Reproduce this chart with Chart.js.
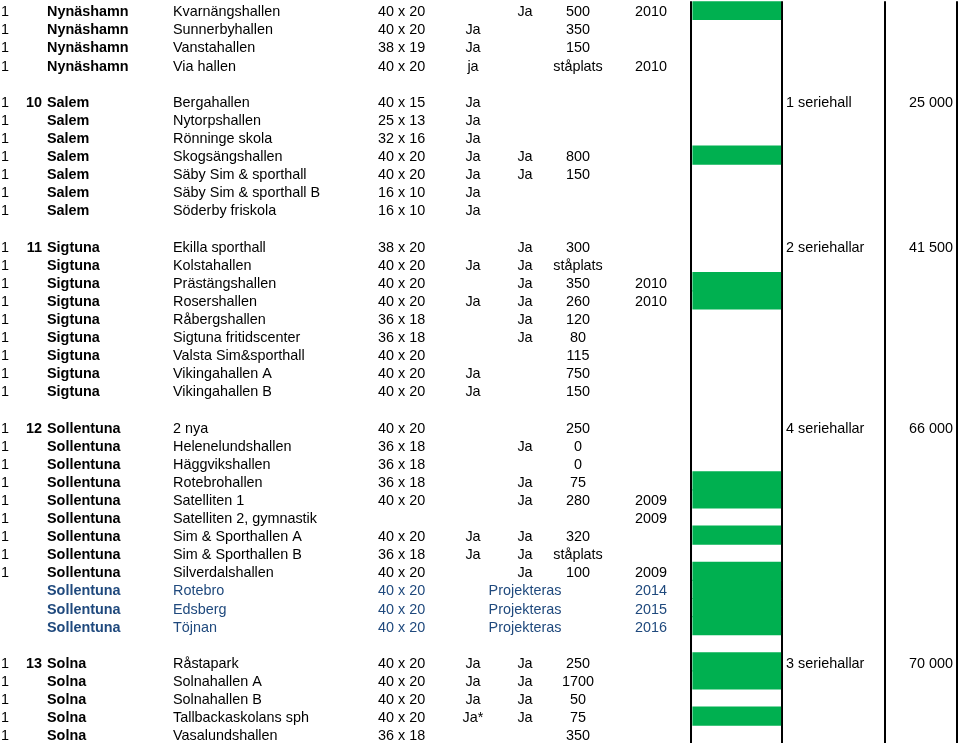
<!DOCTYPE html>
<html>

<head>
    <title>Hallar per kommun</title>
    <style>
        body {
            margin: 0;
            background: #ffffff;
        }

        #wrap {
            width: 959px;
            height: 746px;
        }
    </style>
    <script src="https://cdn.jsdelivr.net/npm/chart.js"></script>
</head>

<body>
    <div id="wrap">
        <canvas id="tabell" width="959" height="746"></canvas>
    </div>

    <script>
        // one entry per table row, '' = empty cell
        const ettor = ['1', '1', '1', '1', '', '1', '1', '1', '1', '1', '1', '1', '', '1', '1', '1', '1', '1', '1', '1', '1', '1', '',
            '1', '1', '1', '1', '1', '1', '1', '1', '1', '', '', '', '', '1', '1', '1', '1', '1'];
        const nummer = ['', '', '', '', '', '10', '', '', '', '', '', '', '', '11', '', '', '', '', '', '', '', '', '',
            '12', '', '', '', '', '', '', '', '', '', '', '', '', '13', '', '', '', ''];
        const kommuner = ['Nynäshamn', 'Nynäshamn', 'Nynäshamn', 'Nynäshamn', '',
            'Salem', 'Salem', 'Salem', 'Salem', 'Salem', 'Salem', 'Salem', '',
            'Sigtuna', 'Sigtuna', 'Sigtuna', 'Sigtuna', 'Sigtuna', 'Sigtuna', 'Sigtuna', 'Sigtuna', 'Sigtuna', '',
            'Sollentuna', 'Sollentuna', 'Sollentuna', 'Sollentuna', 'Sollentuna', 'Sollentuna', 'Sollentuna', 'Sollentuna',
            'Sollentuna', 'Sollentuna', 'Sollentuna', 'Sollentuna', '',
            'Solna', 'Solna', 'Solna', 'Solna', 'Solna'];
        const hallar = ['Kvarnängshallen', 'Sunnerbyhallen', 'Vanstahallen', 'Via hallen', '',
            'Bergahallen', 'Nytorpshallen', 'Rönninge skola', 'Skogsängshallen', 'Säby Sim & sporthall',
            'Säby Sim & sporthall B', 'Söderby friskola', '',
            'Ekilla sporthall', 'Kolstahallen', 'Prästängshallen', 'Rosershallen', 'Råbergshallen',
            'Sigtuna fritidscenter', 'Valsta Sim&sporthall', 'Vikingahallen A', 'Vikingahallen B', '',
            '2 nya', 'Helenelundshallen', 'Häggvikshallen', 'Rotebrohallen', 'Satelliten 1', 'Satelliten 2, gymnastik',
            'Sim & Sporthallen A', 'Sim & Sporthallen B', 'Silverdalshallen', 'Rotebro', 'Edsberg', 'Töjnan', '',
            'Råstapark', 'Solnahallen A', 'Solnahallen B', 'Tallbackaskolans sph', 'Vasalundshallen'];
        const storlek = ['40 x 20', '40 x 20', '38 x 19', '40 x 20', '',
            '40 x 15', '25 x 13', '32 x 16', '40 x 20', '40 x 20', '16 x 10', '16 x 10', '',
            '38 x 20', '40 x 20', '40 x 20', '40 x 20', '36 x 18', '36 x 18', '40 x 20', '40 x 20', '40 x 20', '',
            '40 x 20', '36 x 18', '36 x 18', '36 x 18', '40 x 20', '', '40 x 20', '36 x 18', '40 x 20',
            '40 x 20', '40 x 20', '40 x 20', '',
            '40 x 20', '40 x 20', '40 x 20', '40 x 20', '36 x 18'];
        const ja1 = ['', 'Ja', 'Ja', 'ja', '',
            'Ja', 'Ja', 'Ja', 'Ja', 'Ja', 'Ja', 'Ja', '',
            '', 'Ja', '', 'Ja', '', '', '', 'Ja', 'Ja', '',
            '', '', '', '', '', '', 'Ja', 'Ja', '', '', '', '', '',
            'Ja', 'Ja', 'Ja', 'Ja*', ''];
        const ja2 = ['Ja', '', '', '', '',
            '', '', '', 'Ja', 'Ja', '', '', '',
            'Ja', 'Ja', 'Ja', 'Ja', 'Ja', 'Ja', '', '', '', '',
            '', 'Ja', '', 'Ja', 'Ja', '', 'Ja', 'Ja', 'Ja', 'Projekteras', 'Projekteras', 'Projekteras', '',
            'Ja', 'Ja', 'Ja', 'Ja', ''];
        const platser = ['500', '350', '150', 'ståplats', '',
            '', '', '', '800', '150', '', '', '',
            '300', 'ståplats', '350', '260', '120', '80', '115', '750', '150', '',
            '250', '0', '0', '75', '280', '', '320', 'ståplats', '100', '', '', '', '',
            '250', '1700', '50', '75', '350'];
        const ar = ['2010', '', '', '2010', '',
            '', '', '', '', '', '', '', '',
            '', '', '2010', '2010', '', '', '', '', '', '',
            '', '', '', '', '2009', '2009', '', '', '2009', '2014', '2015', '2016', '',
            '', '', '', '', ''];
        const serie = ['', '', '', '', '', '1 seriehall', '', '', '', '', '', '', '', '2 seriehallar', '', '', '', '', '', '', '', '', '',
            '4 seriehallar', '', '', '', '', '', '', '', '', '', '', '', '', '3 seriehallar', '', '', '', ''];
        const belopp = ['', '', '', '', '', '25 000', '', '', '', '', '', '', '', '41 500', '', '', '', '', '', '', '', '', '',
            '66 000', '', '', '', '', '', '', '', '', '', '', '', '', '70 000', '', '', '', ''];
        // rows with a green cell
        const gron = [1, 0, 0, 0, 0, 0, 0, 0, 1, 0, 0, 0, 0, 0, 0, 1, 1, 0, 0, 0, 0, 0, 0,
            0, 0, 0, 1, 1, 0, 1, 0, 1, 1, 1, 1, 0, 1, 1, 0, 1, 0];
        // planned halls (blue text)
        const planerade = [32, 33, 34];

        const rader = ettor.map((_, i) => String(i));

        // column x positions in pixels of the x scale
        const KOL = {
            etta: 1, nummer: 42, kommun: 47, hall: 173, storlek: 378, ja1: 473, ja2: 525,
            platser: 578, ar: 635, gronV: 693, gronH: 780.5, serie: 786, belopp: 953
        };
        const linjer = [691, 782, 885, 957];

        const FONT = '"Liberation Sans", Arial, sans-serif';

        const textPlugin = {
            id: 'tabelltext',
            afterDatasetsDraw(chart) {
                const ctx = chart.ctx;
                const xs = chart.scales.x;
                const ys = chart.scales.y;
                const kolumner = [
                    [ettor, 'etta', 'left', false],
                    [nummer, 'nummer', 'right', true],
                    [kommuner, 'kommun', 'left', true],
                    [hallar, 'hall', 'left', false],
                    [storlek, 'storlek', 'left', false],
                    [ja1, 'ja1', 'center', false],
                    [ja2, 'ja2', 'center', false],
                    [platser, 'platser', 'center', false],
                    [ar, 'ar', 'left', false],
                    [serie, 'serie', 'left', false],
                    [belopp, 'belopp', 'right', false]
                ];
                ctx.save();
                ctx.textBaseline = 'alphabetic';
                rader.forEach((r, i) => {
                    const y = ys.getPixelForValue(i) + 6;
                    ctx.fillStyle = planerade.includes(i) ? '#1f497d' : '#000000';
                    kolumner.forEach(([arr, kol, align, bold]) => {
                        if (!arr[i]) return;
                        ctx.font = (bold ? 'bold ' : '') + '14.4px ' + FONT;
                        ctx.textAlign = align;
                        ctx.fillText(arr[i], xs.getPixelForValue(KOL[kol]), y);
                    });
                });
                ctx.restore();
            }
        };

        const chart = new Chart(document.getElementById('tabell'), {
            type: 'bar',
            data: {
                labels: rader,
                datasets: [{
                    label: 'Gröna',
                    data: gron.map(g => g ? [KOL.gronV, KOL.gronH] : null),
                    backgroundColor: '#00b050',
                    borderWidth: 0,
                    inflateAmount: 0.6,
                    barPercentage: 1,
                    categoryPercentage: 1
                }]
            },
            options: {
                indexAxis: 'y',
                responsive: false,
                animation: false,
                devicePixelRatio: 1,
                layout: { padding: { top: 1.2, bottom: 2.7, left: 0, right: 0 } },
                plugins: {
                    legend: { display: false },
                    tooltip: { enabled: false }
                },
                scales: {
                    x: {
                        type: 'linear',
                        min: 0,
                        max: 959,
                        afterBuildTicks: (s) => { s.ticks = linjer.map(v => ({ value: v })); },
                        ticks: { display: false },
                        border: { display: false },
                        grid: { drawTicks: false, color: '#000000', lineWidth: 2 }
                    },
                    y: {
                        type: 'category',
                        display: false
                    }
                }
            },
            plugins: [textPlugin]
        });
    </script>
</body>

</html>
